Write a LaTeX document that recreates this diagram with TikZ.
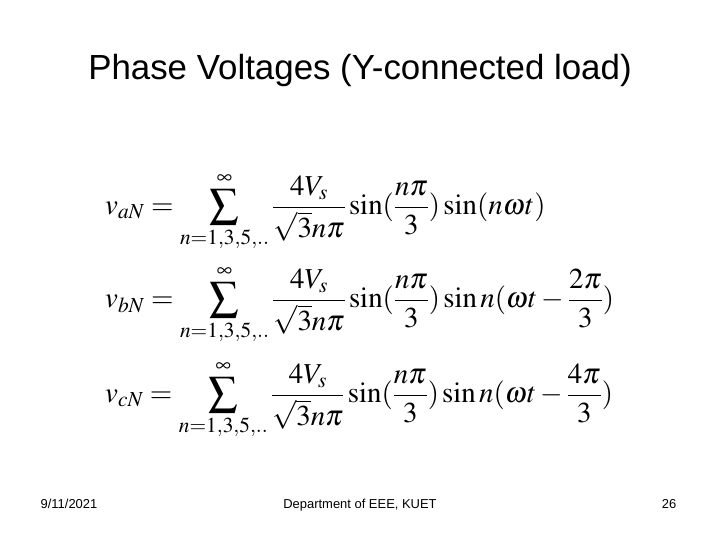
\documentclass[tikz,border=0pt]{standalone}
\usepackage{mathptmx}
\usepackage{fontspec}
\setmainfont{Liberation Sans}
\begin{document}
\begin{tikzpicture}[x=1bp,y=-1bp,
  eq/.style={anchor=west,inner sep=0pt,font=\fontsize{29}{34}\selectfont},
  foot/.style={anchor=base,inner sep=0pt,font=\fontsize{13}{15}\selectfont}]
\useasboundingbox[fill=white] (0,0) rectangle (720,540);
\node[font=\fontsize{35}{40}\selectfont] (title) at (360,70) {Phase Voltages (Y-connected load)};
\node[eq] (e1) at (105,212) {$\displaystyle v_{aN}=\sum_{n=1,3,5,..}^{\infty}\frac{4V_s}{\sqrt{3}n\pi}\sin(\frac{n\pi}{3})\sin(n\omega t)$};
\node[eq] (e2) at (105,305) {$\displaystyle v_{bN}=\sum_{n=1,3,5,..}^{\infty}\frac{4V_s}{\sqrt{3}n\pi}\sin(\frac{n\pi}{3})\sin n(\omega t-\frac{2\pi}{3})$};
\node[eq] (e3) at (105,400) {$\displaystyle v_{cN}=\sum_{n=1,3,5,..}^{\infty}\frac{4V_s}{\sqrt{3}n\pi}\sin(\frac{n\pi}{3})\sin n(\omega t-\frac{4\pi}{3})$};
\node[foot] (date) at (69,508) {9/11/2021};
\node[foot] (dept) at (360,508) {Department of EEE, KUET};
\node[foot] (page) at (669,508) {26};
\end{tikzpicture}
\end{document}
